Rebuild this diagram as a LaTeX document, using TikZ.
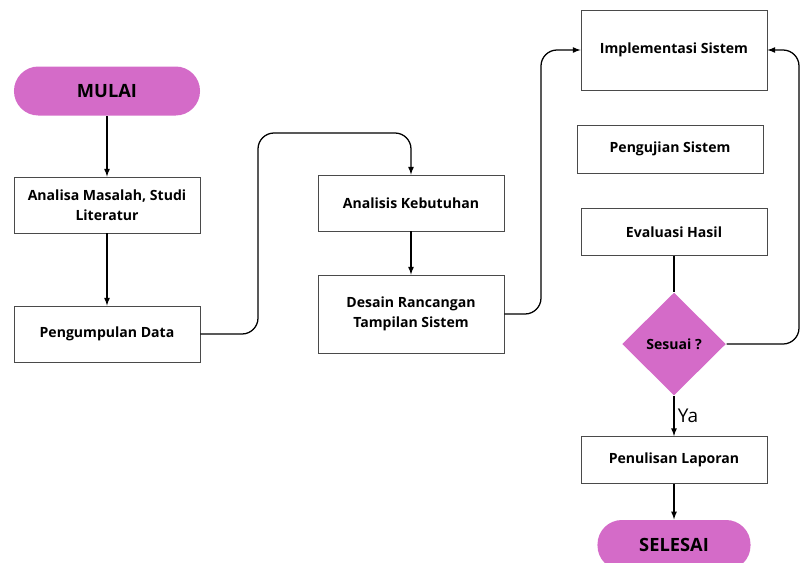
\documentclass[tikz,border=0pt]{standalone}
\usepackage{fontspec}
\setmainfont{Open Sans}
\usetikzlibrary{shapes.geometric}

\definecolor{pinkfill}{HTML}{D46BC8}
\definecolor{boxline}{HTML}{4A4A4A}

\tikzset{
  proc/.style={draw=boxline, line width=0.6pt, fill=white, minimum width=4.65cm,
    align=center, inner sep=2pt, font=\fontsize{10}{14}\selectfont\bfseries},
  term/.style={fill=pinkfill, rounded corners=0.61cm, minimum width=4.65cm,
    minimum height=1.225cm, font=\fontsize{13}{15}\selectfont\bfseries},
  decision/.style={diamond, fill=pinkfill, minimum width=2.6cm, minimum height=2.575cm,
    inner sep=0pt, font=\fontsize{10}{12}\selectfont\bfseries}
}

\begin{document}
\begin{tikzpicture}[>=latex, line width=0.9pt, x=0.025cm, y=-0.025cm]
  \clip (0,0) rectangle (802,562);

  % Nodes
  \node[term] (mulai) at (107,91) {MULAI};
  \node[proc, minimum height=1.4cm] (analisa) at (107,205) {Analisa Masalah, Studi\\Literatur};
  \node[proc, minimum height=1.4cm] (kumpul) at (107,334) {Pengumpulan Data};
  \node[proc, minimum height=1.4cm] (butuh) at (411,203) {Analisis Kebutuhan};
  \node[proc, minimum height=1.95cm] (desain) at (411,314) {Desain Rancangan\\Tampilan Sistem};
  \node[proc, minimum height=2cm] (impl) at (674,50) {Implementasi Sistem};
  \node[proc, minimum height=1.2cm] (uji) at (670,149) {Pengujian Sistem};
  \node[proc, minimum height=1.175cm] (eval) at (674,232) {Evaluasi Hasil};
  \node[decision] (sesuai) at (674,344) {Sesuai ?};
  \node[proc, minimum height=1.175cm] (tulis) at (674,460) {Penulisan Laporan};
  \node[term, minimum width=3.825cm, minimum height=1.25cm] (selesai) at (674,545) {SELESAI};

  % Arrows
  \draw[->] (mulai) -- (analisa);
  \draw[->] (analisa) -- (kumpul);
  \draw[->, rounded corners=0.4cm] (kumpul.east) -- (258,334) -- (258,133) -- (411,133) -- (butuh.north);
  \draw[->] (butuh) -- (desain);
  \draw[->, rounded corners=0.4cm] (desain.east) -- (541,314) -- (541,50) -- (impl.west);
  \draw (eval) -- (sesuai);
  \draw[->, rounded corners=0.4cm] (sesuai.east) -- (799,344) -- (799,50) -- (impl.east);
  \draw[->] (sesuai) -- node[right, xshift=-1pt, font=\fontsize{13.5}{15}\selectfont] {Ya} (tulis);
  \draw[->] (tulis) -- (selesai);
\end{tikzpicture}
\end{document}
